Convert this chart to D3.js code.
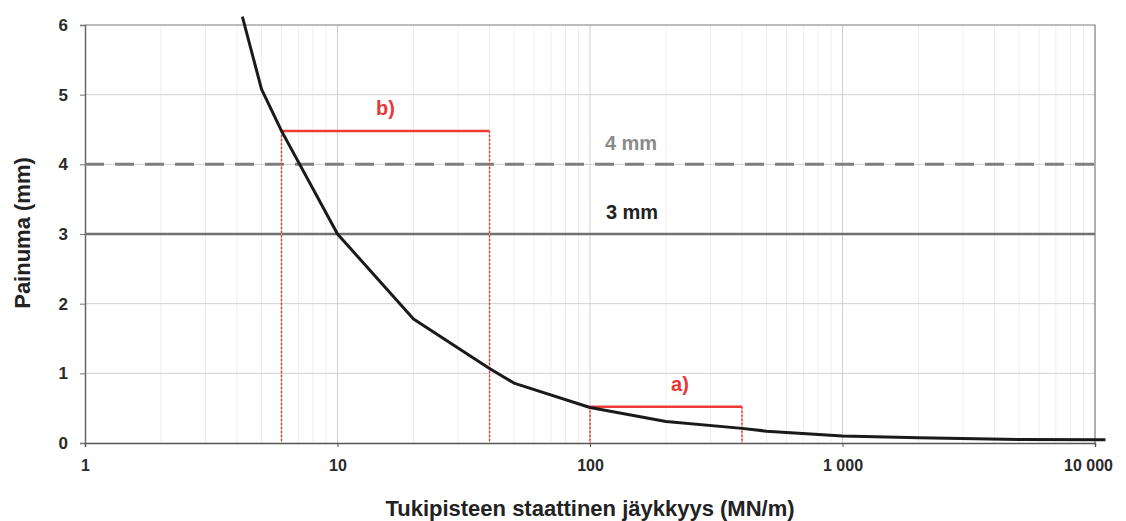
<!DOCTYPE html>
<html>
<head>
<meta charset="utf-8">
<script src="https://cdn.jsdelivr.net/npm/d3@7"></script>
<style>
  body { margin: 0; background: #fff; }
  text { font-family: "Liberation Sans", Arial, sans-serif; font-weight: bold; }
</style>
</head>
<body>
<div id="vis"></div>
<script>
// curve: static stiffness (MN/m) vs deflection (mm)
var stiffness  = [4.2, 5, 6, 10, 20, 40, 50, 100, 200, 400, 500, 1000, 2000, 5000, 11000];
var deflection = [6.12, 5.08, 4.48, 3.0, 1.78, 1.07, 0.86, 0.51, 0.31, 0.21, 0.17, 0.10, 0.075, 0.05, 0.045];

// reference limit lines
var limitValues = [4, 3];
var limitLabels = ['4 mm', '3 mm'];

// ranges a) and b)
var rangeNames = ['b)', 'a)'];
var rangeFrom  = [6, 100];
var rangeTo    = [40, 400];
var rangeLevel = [4.48, 0.52];

var xTicks = [1, 10, 100, 1000, 10000];
var xTickLabels = ['1', '10', '100', '1 000', '10 000'];
var yTicks = [0, 1, 2, 3, 4, 5, 6];

var width = 1126, height = 521;
var margin = { left: 85, right: 31, top: 25, bottom: 78 };

var svg = d3.select('#vis').append('svg')
  .attr('width', width)
  .attr('height', height);

var x = d3.scaleLog().domain([1, 10000]).range([margin.left, width - margin.right]);
var y = d3.scaleLinear().domain([0, 6]).range([height - margin.bottom, margin.top]);

// minor vertical gridlines
var minor = [];
for (var d = 1; d < 10000; d *= 10) {
  for (var k = 2; k <= 9; k++) minor.push(d * k);
}
svg.append('g').selectAll('line').data(minor).join('line')
  .attr('x1', function (v) { return x(v); })
  .attr('x2', function (v) { return x(v); })
  .attr('y1', y(0)).attr('y2', y(6))
  .attr('stroke', '#eeeeee').attr('stroke-width', 1);

// major gridlines
svg.append('g').selectAll('line').data(xTicks.slice(1, 4)).join('line')
  .attr('x1', function (v) { return x(v); })
  .attr('x2', function (v) { return x(v); })
  .attr('y1', y(0)).attr('y2', y(6))
  .attr('stroke', '#cfcfcf').attr('stroke-width', 1);

svg.append('g').selectAll('line').data(yTicks.slice(1, 6)).join('line')
  .attr('x1', x(1)).attr('x2', x(10000))
  .attr('y1', function (v) { return y(v); })
  .attr('y2', function (v) { return y(v); })
  .attr('stroke', '#d0d0d0').attr('stroke-width', 1);

// plot frame (top and right)
svg.append('path')
  .attr('d', 'M' + x(1) + ',' + y(6) + 'H' + x(10000) + 'V' + y(0))
  .attr('fill', 'none').attr('stroke', '#7a7a7a').attr('stroke-width', 1.2);

// axes
var xAxis = svg.append('g')
  .attr('transform', 'translate(0,' + y(0) + ')')
  .call(d3.axisBottom(x).tickValues(xTicks).tickSize(4)
    .tickFormat(function (v, i) { return xTickLabels[i]; }));
xAxis.attr('font-size', null);
xAxis.select('.domain').attr('stroke', '#555').attr('stroke-width', 1.5);
xAxis.selectAll('.tick line').attr('stroke', '#555');
xAxis.selectAll('text').attr('dy', 0).attr('y', 28)
  .attr('x', function (v, i) { return i === xTicks.length - 1 ? -7 : 0; })
  .style('font-size', '16px').attr('fill', '#2a2a2a');

var yAxis = svg.append('g')
  .attr('transform', 'translate(' + x(1) + ',0)')
  .call(d3.axisLeft(y).tickValues(yTicks).tickSize(5).tickFormat(d3.format('d')));
yAxis.attr('font-size', null);
yAxis.select('.domain').attr('stroke', '#666').attr('stroke-width', 1.5);
yAxis.selectAll('.tick line').attr('stroke', '#777');
yAxis.selectAll('text').attr('x', -17)
  .style('font-size', '17px').attr('fill', '#2a2a2a');

// axis titles
svg.append('text')
  .attr('x', (x(1) + x(10000)) / 2).attr('y', 516)
  .attr('text-anchor', 'middle')
  .attr('font-size', 22).attr('fill', '#222')
  .text('Tukipisteen staattinen jäykkyys (MN/m)');

svg.append('text')
  .attr('transform', 'translate(30,' + (y(3) - 1) + ') rotate(-90)')
  .attr('text-anchor', 'middle')
  .attr('font-size', 22).attr('fill', '#222')
  .text('Painuma (mm)');

// limit lines
svg.append('line')
  .attr('x1', x(1)).attr('x2', x(10000))
  .attr('y1', y(limitValues[0])).attr('y2', y(limitValues[0]))
  .attr('stroke', '#7f7f7f').attr('stroke-width', 3)
  .attr('stroke-dasharray', '19,11');
svg.append('line')
  .attr('x1', x(1)).attr('x2', x(10000))
  .attr('y1', y(limitValues[1])).attr('y2', y(limitValues[1]))
  .attr('stroke', '#707070').attr('stroke-width', 2.5);

svg.append('text')
  .attr('x', 631).attr('y', y(limitValues[0]) - 14)
  .attr('text-anchor', 'middle').attr('font-size', 20).attr('fill', '#8a8a8a')
  .text(limitLabels[0]);
svg.append('text')
  .attr('x', 632).attr('y', y(limitValues[1]) - 15)
  .attr('text-anchor', 'middle').attr('font-size', 20).attr('fill', '#222')
  .text(limitLabels[1]);

// ranges
var labelShift = [0, 14];
rangeNames.forEach(function (name, i) {
  var g = svg.append('g');
  [rangeFrom[i], rangeTo[i]].forEach(function (v) {
    g.append('line')
      .attr('x1', x(v)).attr('x2', x(v))
      .attr('y1', y(rangeLevel[i])).attr('y2', y(0))
      .attr('stroke', '#f2a33a').attr('stroke-width', 1);
    g.append('line')
      .attr('x1', x(v)).attr('x2', x(v))
      .attr('y1', y(rangeLevel[i])).attr('y2', y(0))
      .attr('stroke', '#d63c72').attr('stroke-width', 1.5)
      .attr('stroke-dasharray', '2,2');
  });
  g.append('line')
    .attr('x1', x(rangeFrom[i])).attr('x2', x(rangeTo[i]))
    .attr('y1', y(rangeLevel[i])).attr('y2', y(rangeLevel[i]))
    .attr('stroke', '#ee3b36').attr('stroke-width', 2.5);
  g.append('text')
    .attr('x', (x(rangeFrom[i]) + x(rangeTo[i])) / 2 + labelShift[i])
    .attr('y', y(rangeLevel[i]) - 16)
    .attr('text-anchor', 'middle').attr('font-size', 20).attr('fill', '#e8363a')
    .text(name);
});

// deflection curve
var pts = stiffness.map(function (s, i) { return [s, deflection[i]]; });
svg.append('path')
  .datum(pts)
  .attr('fill', 'none')
  .attr('stroke', '#1a1a1a').attr('stroke-width', 3)
  .attr('stroke-linejoin', 'round')
  .attr('d', d3.line()
    .x(function (p) { return x(p[0]); })
    .y(function (p) { return y(p[1]); }));
</script>
</body>
</html>
